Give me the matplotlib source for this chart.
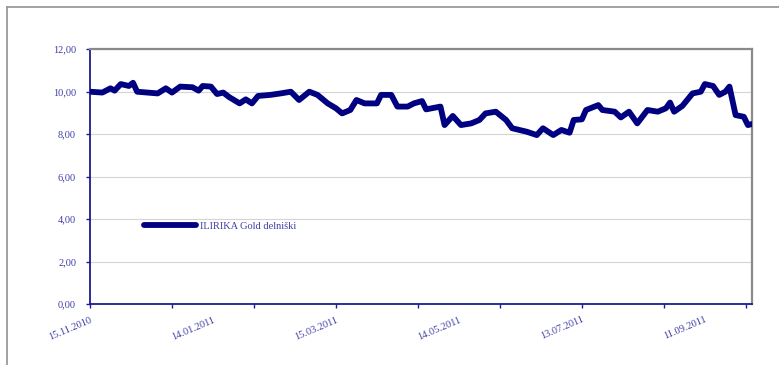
import matplotlib
matplotlib.use("Agg")
import matplotlib.pyplot as plt
from matplotlib.lines import Line2D

plt.rcParams['font.family'] = ['Liberation Serif', 'DejaVu Serif']

# day offsets from 15.11.2010 and fund unit value
days = [0, 6, 10, 12, 15, 19, 21, 23, 33, 37, 40, 44, 50, 53, 55, 59, 62, 65,
        68, 73, 76, 79, 82, 88, 93, 98, 102, 107, 111, 116, 120, 123, 127, 130,
        134, 140, 142, 147, 150, 155, 158, 162, 164, 171, 173, 177, 181, 186,
        190, 193, 198, 203, 206, 213, 218, 221, 226, 230, 234, 236, 240, 242,
        248, 250, 256, 259, 263, 267, 272, 277, 281, 283, 285, 289, 294, 298,
        300, 304, 307, 310, 312, 315, 319, 321, 323]
values = [9.99, 9.95, 10.15, 10.04, 10.35, 10.26, 10.41, 9.99, 9.91, 10.15,
          9.95, 10.23, 10.20, 10.04, 10.26, 10.23, 9.88, 9.95, 9.73, 9.44,
          9.63, 9.44, 9.79, 9.84, 9.91, 9.99, 9.60, 9.99, 9.84, 9.44, 9.21,
          8.97, 9.13, 9.60, 9.44, 9.44, 9.84, 9.84, 9.29, 9.29, 9.44, 9.55,
          9.16, 9.29, 8.42, 8.85, 8.42, 8.50, 8.66, 8.97, 9.05, 8.66, 8.27,
          8.11, 7.95, 8.27, 7.95, 8.19, 8.06, 8.66, 8.69, 9.13, 9.36, 9.13,
          9.05, 8.78, 9.05, 8.50, 9.13, 9.05, 9.21, 9.48, 9.05, 9.32, 9.91,
          9.99, 10.35, 10.26, 9.84, 9.99, 10.23, 8.89, 8.81, 8.42, 8.47]

label_days = [0, 60, 120, 180, 240, 300]
label_texts = ['15.11.2010', '14.01.2011', '15.03.2011', '14.05.2011',
               '13.07.2011', '11.09.2011']
tick_days = list(range(0, 321, 40))
y_ticks = [0, 2, 4, 6, 8, 10, 12]

text_col = '#3f3fa6'
axis_col = '#1c1c8f'

fig = plt.figure(figsize=(7.79, 3.65), dpi=100)
ax = fig.add_axes([90 / 779, 61 / 365, 662 / 779, 255 / 365])

ax.plot(days, values, color='#000080', lw=4.2, solid_capstyle='round',
        solid_joinstyle='round', label='ILIRIKA Gold delniški', zorder=3)

ax.set_xlim(0, 323)
ax.set_ylim(0, 12)
ax.set_yticks(y_ticks)
ax.set_yticklabels([f'{v:.2f}'.replace('.', ',') for v in y_ticks])
ax.grid(axis='y', color='#d4d4d4', lw=0.8)
ax.set_axisbelow(True)

# tick marks every 40 days, date labels every 60 days
ax.xaxis.remove_overlapping_locs = False
ax.set_xticks(tick_days)
ax.set_xticklabels([])
ax.set_xticks(label_days, label_texts, minor=True)
ax.tick_params(axis='x', which='minor', length=0, pad=8,
               labelrotation=23, labelcolor=text_col, labelsize=7.5)
for lbl in ax.get_xticklabels(minor=True):
    lbl.set_ha('right')
    lbl.set_rotation_mode('anchor')
ax.tick_params(axis='x', which='major', length=3, width=1, color=axis_col)
ax.tick_params(axis='y', length=3, width=1, color=axis_col, pad=7,
               labelcolor=text_col, labelsize=7.5)

for side in ('left', 'bottom'):
    ax.spines[side].set_color(axis_col)
    ax.spines[side].set_linewidth(1.3)
for side in ('top', 'right'):
    ax.spines[side].set_color('#8a8a8a')
    ax.spines[side].set_linewidth(1.6)

leg = ax.legend(loc='center left', bbox_to_anchor=(0.074, 0.305), frameon=False,
                fontsize=7.5, handlelength=5.0, handletextpad=0.35, borderpad=0)
for t in leg.get_texts():
    t.set_color(text_col)

# outer chart frame
fig.add_artist(Line2D([7 / 779, 7 / 779], [0, 358 / 365], color='#9a9a9a', lw=1.3))
fig.add_artist(Line2D([7 / 779, 1], [358 / 365, 358 / 365], color='#9a9a9a', lw=1.3))

fig.savefig('out.png', dpi=100)
